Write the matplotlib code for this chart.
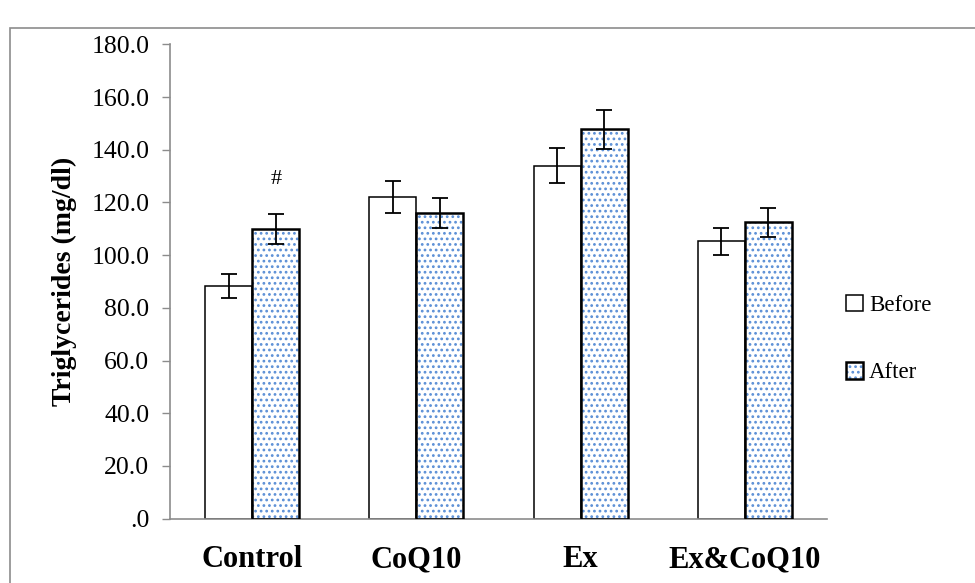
import matplotlib
matplotlib.use("Agg")
import matplotlib.pyplot as plt
import numpy as np
from matplotlib.patches import Patch, Rectangle
from matplotlib.legend_handler import HandlerTuple
from matplotlib.ticker import FuncFormatter

groups = ["Control", "CoQ10", "Ex", "Ex&CoQ10"]
before = [88.3, 122.0, 133.9, 105.2]
before_err = [4.4, 6.1, 6.6, 5.2]
after = [110.0, 116.1, 147.8, 112.4]
after_err = [5.6, 5.7, 7.4, 5.6]
marks = ["#", "", "", ""]          # significance marks above After bars

DOT = "#5b8fd6"
GRAY = "#8c8c8c"
plt.rcParams["font.family"] = ["Liberation Serif", "DejaVu Serif"]
plt.rcParams["hatch.linewidth"] = 1.2

fig = plt.figure(figsize=(9.75, 5.83), dpi=100)
ax = fig.add_axes([0.1744, 0.1103, 0.6738, 0.8137])

x = np.arange(len(groups))
w = 0.2866
ax.bar(x - w / 2, before, w, color="white", edgecolor="black", linewidth=1.1, zorder=2)
# dotted fill: hatch layer, then black outline on top
ax.bar(x + w / 2, after, w, color="white", edgecolor=DOT, hatch="...", linewidth=0, zorder=2)
ax.bar(x + w / 2, after, w, color="none", edgecolor="black", linewidth=1.8, zorder=3)
ax.errorbar(x - w / 2, before, yerr=before_err, fmt="none", ecolor="black",
            elinewidth=1.3, capsize=5.5, capthick=1.3, zorder=4)
ax.errorbar(x + w / 2, after, yerr=after_err, fmt="none", ecolor="black",
            elinewidth=1.3, capsize=5.5, capthick=1.3, zorder=4)
for xi, a, e, m in zip(x, after, after_err, marks):
    if m:
        ax.text(xi + w / 2, a + e + 13, m, ha="center", va="center", fontsize=16)

ax.set_xlim(-0.5, len(groups) - 0.5)
ax.set_ylim(0, 180)
ax.set_yticks(np.arange(0, 181, 20))
ax.yaxis.set_major_formatter(FuncFormatter(lambda v, p: ".0" if v == 0 else "%.1f" % v))
ax.set_xticks(x)
ax.set_xticklabels(groups, fontsize=22, fontweight="bold")
ax.tick_params(axis="x", length=0, pad=19)
ax.tick_params(axis="y", direction="out", length=6, width=1, color=GRAY,
               labelsize=18.5, pad=9)
for s in ("top", "right"):
    ax.spines[s].set_visible(False)
for s in ("left", "bottom"):
    ax.spines[s].set_color(GRAY)
    ax.spines[s].set_linewidth(1.2)
ax.set_ylabel("Triglycerides (mg/dl)", fontsize=20, fontweight="bold", labelpad=10)

h_before = Patch(facecolor="white", edgecolor="black", linewidth=1.1)
h_after = (Patch(facecolor="white", edgecolor=DOT, hatch="...", linewidth=0),
           Patch(facecolor="none", edgecolor="black", linewidth=1.8))
fig.legend([h_before, h_after], ["Before", "After"],
           handler_map={tuple: HandlerTuple(ndivide=1, pad=0)},
           loc="center left", bbox_to_anchor=(0.868, 0.4185),
           frameon=False, fontsize=16.5, handlelength=0.75, handleheight=0.75,
           handletextpad=0.25, labelspacing=2.0, borderpad=0, borderaxespad=0)

# outer chart border
fig.patches.append(Rectangle((10 / 975, -0.1), 1.2, 0.1 + 1 - 28 / 583,
                             transform=fig.transFigure, fill=False,
                             edgecolor=GRAY, linewidth=1.2))

fig.savefig("out.png", dpi=100, facecolor="white")
